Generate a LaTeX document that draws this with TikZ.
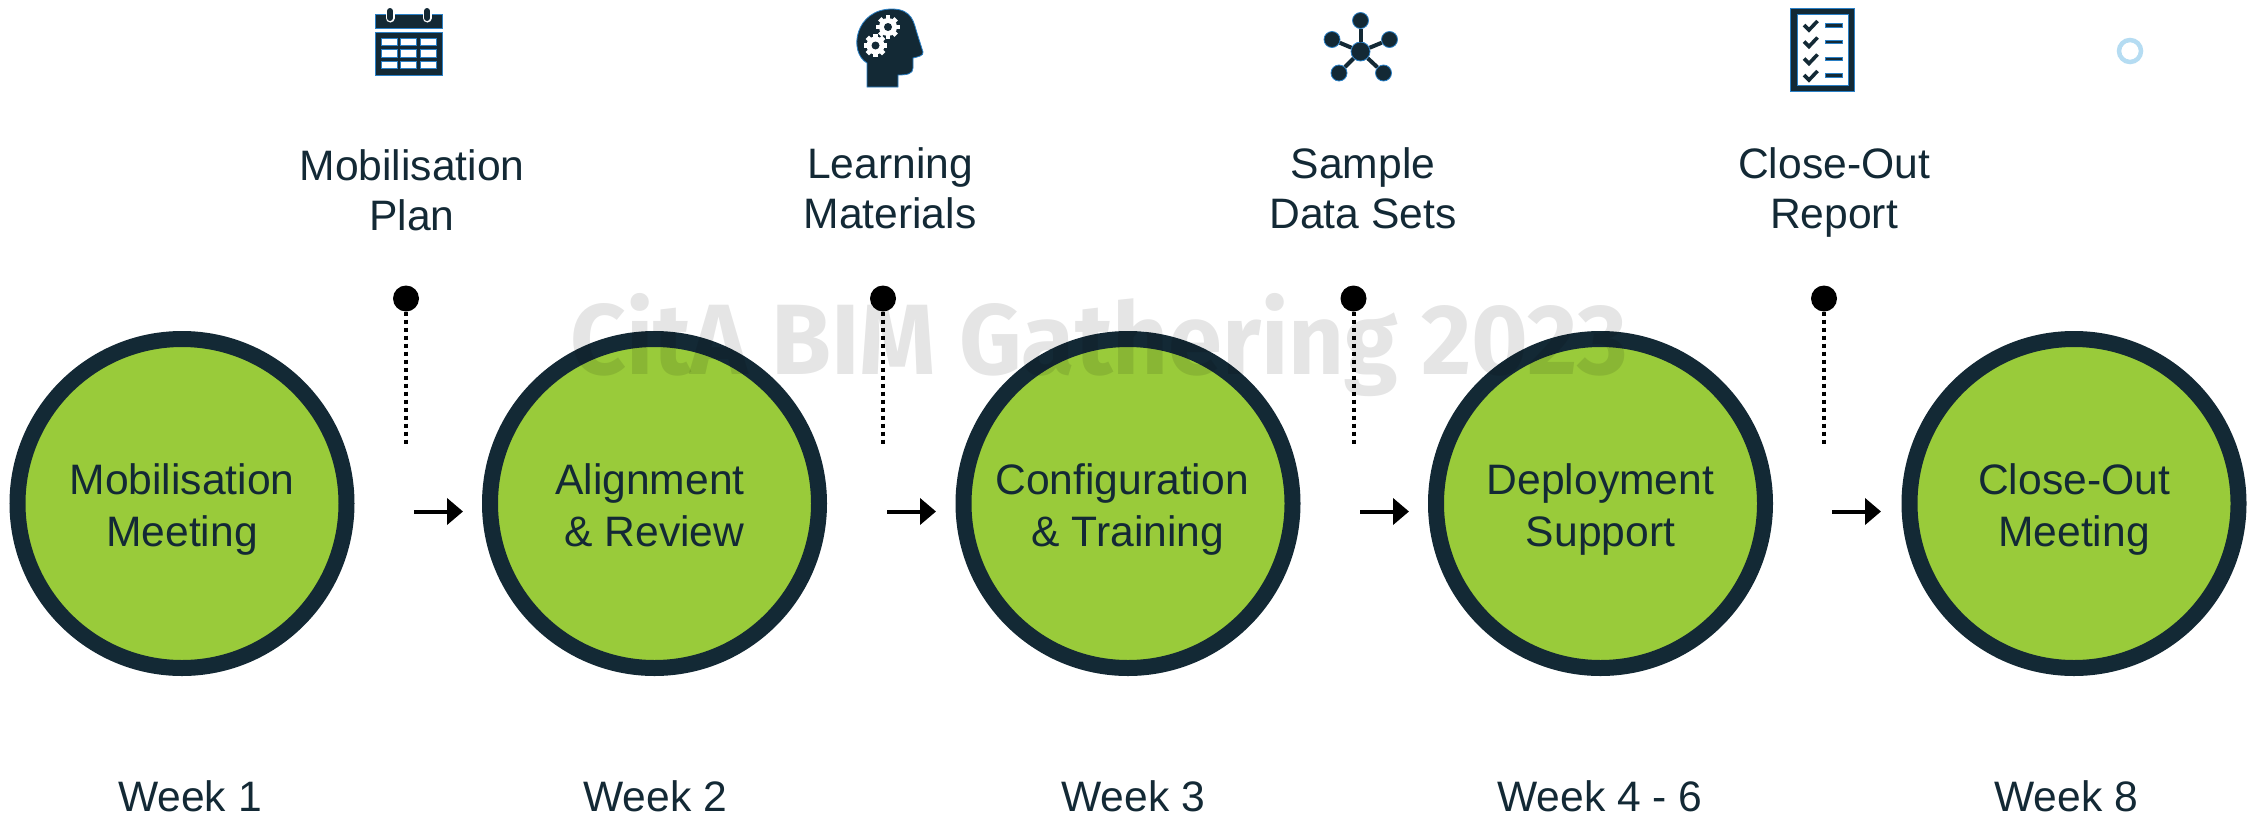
\documentclass[tikz,border=0pt]{standalone}
\usepackage{fontspec}
\setmainfont{Liberation Sans}
\newfontfamily\markfont{Fira Sans}
\usetikzlibrary{arrows.meta,positioning}
\definecolor{inkColor}{HTML}{132935}
\definecolor{limeColor}{HTML}{99CB3A}
\definecolor{edgeColor}{HTML}{2A80C6}
\definecolor{ringColor}{HTML}{B5DCF2}
\newcommand{\stagetext}[2]{\raisebox{9pt}[0pt][0pt]{\begin{tabular}[t]{@{}c@{}}#1\\#2\end{tabular}}}
\tikzset{
	cog/.pic={
		\foreach \ang in {0,45,...,315}
			\fill[white,rotate=\ang] (-2.4,6) rectangle (2.4,11.6);
		\fill[white] (0,0) circle (9);
		\fill[inkColor] (0,0) circle (4);
	}
}
\begin{document}
\begin{tikzpicture}[x=1pt,y=-1pt,
	stage/.style={draw=inkColor,fill=limeColor,circle,line width=16pt,minimum size=329pt,inner sep=0,outer sep=0,text=inkColor,font=\fontsize{42.6}{51.5}\selectfont},
	lab/.style={align=center,text=inkColor,font=\fontsize{42.6}{50}\selectfont},
	pin/.style={circle,fill=black,minimum size=26pt,inner sep=0,outer sep=0},
	stem/.style={line width=4pt,dash pattern=on 4pt off 4pt},
	step arrow/.style={-{Triangle[length=16pt,width=26pt]},line width=4pt},
	icon/.style={fill=inkColor,draw=edgeColor,line width=.8pt}]
	\useasboundingbox (0,0) rectangle (2252,817);
	
	\node[stage] (s1) at (182,503.5) {\stagetext{Mobilisation}{Meeting}};
	\node[stage] (s2) at (654.5,503.5) {\stagetext{Alignment\kern9pt}{\& Review}};
	\node[stage] (s3) at (1128,503.5) {\stagetext{Configuration\kern11.8pt}{\& Training}};
	\node[stage] (s4) at (1600.5,503.5) {\stagetext{Deployment}{Support}};
	\node[stage] (s5) at (2074,503.5) {\stagetext{Close-Out}{Meeting}};
	
	\node[lab] (w1) at (190,796.5) {Week 1};
	\node[lab] (w2) at (655,796.5) {Week 2};
	\node[lab] (w3) at (1133,796.5) {Week 3};
	\node[lab] (w4) at (1600,796.5) {Week 4 - 6};
	\node[lab] (w5) at (2066,796.5) {Week 8};
	
	\node[lab] (d1) at (412,190) {Mobilisation\\Plan};
	\node[lab] (d2) at (890,188) {Learning\\Materials};
	\node[lab] (d3) at (1363,188) {Sample\\Data Sets};
	\node[lab] (d4) at (1834,192) {Close-Out\\Report};
	
	\node[pin] (p1) at (406,298.5) {};
	\node[pin] (p2) at (883,298.5) {};
	\node[pin] (p3) at (1353.5,298.5) {};
	\node[pin] (p4) at (1824,298.5) {};
	\coordinate (e1) at (406,447);
	\coordinate (e2) at (883,447);
	\coordinate (e3) at (1353.5,447);
	\coordinate (e4) at (1824,447);
	\draw[stem] (p1) -- (e1);
	\draw[stem] (p2) -- (e2);
	\draw[stem] (p3) -- (e3);
	\draw[stem] (p4) -- (e4);
	
	\coordinate (a1) at (414,511.5);
	\coordinate (b1) at (463,511.5);
	\coordinate (a2) at (887,511.5);
	\coordinate (b2) at (936,511.5);
	\coordinate (a3) at (1360,511.5);
	\coordinate (b3) at (1409,511.5);
	\coordinate (a4) at (1832,511.5);
	\coordinate (b4) at (1881,511.5);
	\draw[step arrow] (a1) -- (b1);
	\draw[step arrow] (a2) -- (b2);
	\draw[step arrow] (a3) -- (b3);
	\draw[step arrow] (a4) -- (b4);
	
	% calendar
	\path[icon] (375,14) rectangle (442,28);
	\path[icon] (375,32) rectangle (442,75);
	\draw[white,line width=9pt,line cap=round] (390,12) -- (390,18);
	\draw[white,line width=9pt,line cap=round] (427,12) -- (427,18);
	\draw[inkColor,line width=6pt,line cap=round] (390,11) -- (390,18);
	\draw[inkColor,line width=6pt,line cap=round] (427,11) -- (427,18);
	\foreach \x in {381,400.5,420}
		\foreach \y in {38,49.5,61}
			\draw[fill=white,draw=edgeColor,line width=.8pt] (\x,\y) rectangle +(16,7.5);
	
	% head with cogs
	\path[icon] (867,87) -- (867,63) .. controls (848,52) and (855,9) .. (892,9)
		.. controls (913,9) and (914,24) .. (917,33) -- (923,52) .. controls (924,56) and (917,57) .. (913,58)
		-- (913,68) .. controls (913,74) and (907,75) .. (898,75) -- (898,87) -- cycle;
	\pic at (888,27) {cog};
	\pic at (875.5,45.5) {cog};
	
	% network
	\node[icon,circle,minimum size=19pt,inner sep=0] (hub) at (1360.5,51.5) {};
	\node[icon,circle,minimum size=16pt,inner sep=0] (n1) at (1360.5,20.5) {};
	\node[icon,circle,minimum size=16pt,inner sep=0] (n2) at (1332,39.5) {};
	\node[icon,circle,minimum size=16pt,inner sep=0] (n3) at (1389.5,39.5) {};
	\node[icon,circle,minimum size=16pt,inner sep=0] (n4) at (1339,73) {};
	\node[icon,circle,minimum size=16pt,inner sep=0] (n5) at (1383.5,73) {};
	\draw[inkColor,line width=4pt] (hub) -- (n1);
	\draw[inkColor,line width=4pt] (hub) -- (n2);
	\draw[inkColor,line width=4pt] (hub) -- (n3);
	\draw[inkColor,line width=4pt] (hub) -- (n4);
	\draw[inkColor,line width=4pt] (hub) -- (n5);
	
	% checklist
	\path[icon] (1790.5,8) rectangle (1854.5,91);
	\draw[fill=white,draw=edgeColor,line width=.8pt] (1797,14.5) rectangle (1848,85);
	\foreach \y in {25,41.5,58.5,75} {
		\draw[inkColor,line width=3.6pt] (1804,\y) -- (1809,{\y+5}) -- (1817.5,{\y-4});
		\draw[icon] (1825,{\y-1.5}) rectangle (1842,{\y+2});
	}
	
	\node[circle,draw=ringColor,line width=4.5pt,minimum size=22pt,inner sep=0] (ring) at (2130,51) {};
	
	\node[text=black,text opacity=.1,font=\markfont\bfseries\fontsize{100}{100}\selectfont,anchor=base] (mark) at (1099,374) {\scalebox{.972}[1]{CitA BIM Gathering 2023}};
\end{tikzpicture}
\end{document}
